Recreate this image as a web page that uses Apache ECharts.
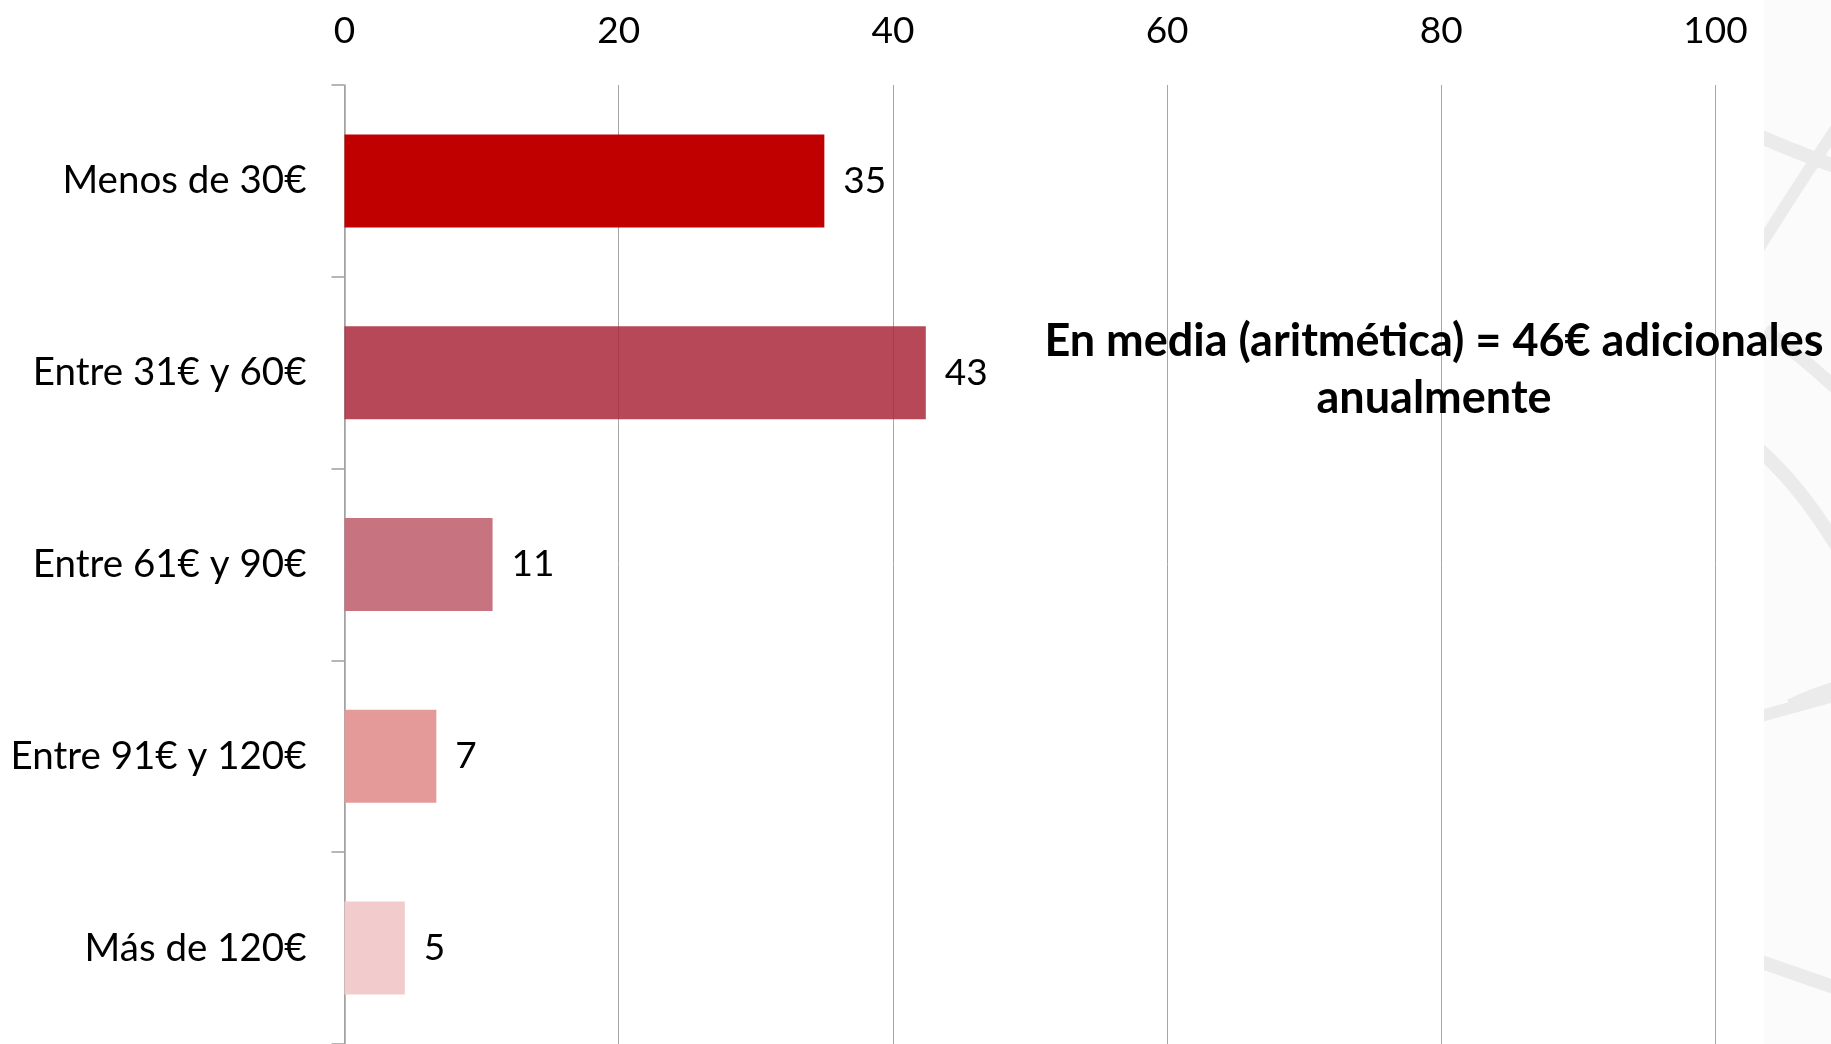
<!DOCTYPE html>
<html>
<head>
<meta charset="utf-8">
<script src="https://cdn.jsdelivr.net/npm/echarts@6/dist/echarts.min.js"></script>
<style>
html,body{margin:0;padding:0;background:#fff;}
#chart{width:1831px;height:1044px;}
</style>
</head>
<body>
<div id="chart"></div>
<script>
const categories = ['Menos de 30€', 'Entre 31€ y 60€', 'Entre 61€ y 90€', 'Entre 91€ y 120€', 'Más de 120€'];
const values = [35.0, 42.4, 10.8, 6.7, 4.4];
const valueLabels = ['35', '43', '11', '7', '5'];
const barColors = ['#C00000', 'rgba(170,42,60,0.86)', '#C87480', '#E59A9A', '#F2CBCD'];
const xTicks = [0, 20, 40, 60, 80, 100];
const noteLines = ['En media (aritmética) = 46€ adicionales', 'anualmente'];

const FONT = 'Lato, "Open Sans", "Noto Sans", sans-serif';
const chart = echarts.init(document.getElementById('chart'), null, {renderer: 'canvas'});

const band = (p1, p2, p3, w) => ({
  type: 'bezierCurve', z: -5, silent: true,
  shape: {x1: p1[0], y1: p1[1], cpx1: p2[0], cpy1: p2[1], x2: p3[0], y2: p3[1]},
  style: {stroke: '#EBEBEB', lineWidth: w, fill: null}
});

const option = {
  backgroundColor: '#ffffff',
  animation: false,
  graphic: [
    {type: 'rect', z: -10, silent: true, shape: {x: 1764, y: 0, width: 67, height: 1044}, style: {fill: '#FBFBFB'}},
    band([1745, 130], [1790, 150], [1840, 168], 14),
    band([1750, 262], [1795, 190], [1845, 115], 12),
    band([1765, 330], [1800, 355], [1840, 392], 13),
    band([1750, 442], [1800, 482], [1845, 560], 14),
    band([1790, 705], [1810, 695], [1845, 684], 12),
    band([1750, 719], [1790, 708], [1845, 693], 12),
    band([1750, 958], [1790, 972], [1845, 991], 14),
    {type: 'rect', z: -4, silent: true, shape: {x: 1730, y: 0, width: 34, height: 1044}, style: {fill: '#FFFFFF'}},
    {type: 'text', z: 100, silent: true, x: 1434, y: 341,
      style: {text: noteLines[0], font: 'bold 45px ' + FONT, fill: '#000', align: 'center', verticalAlign: 'middle'}},
    {type: 'text', z: 100, silent: true, x: 1434, y: 398,
      style: {text: noteLines[1], font: 'bold 45px ' + FONT, fill: '#000', align: 'center', verticalAlign: 'middle'}}
  ],
  grid: {left: 344.5, right: 115.5, top: 85, height: 960, containLabel: false},
  xAxis: {
    type: 'value', position: 'top', min: xTicks[0], max: xTicks[xTicks.length - 1], interval: 20,
    axisLine: {show: false}, axisTick: {show: false},
    axisLabel: {margin: 35, color: '#000', fontSize: 37, fontFamily: FONT},
    splitLine: {show: true, lineStyle: {color: '#A6A6A6', width: 1}}
  },
  yAxis: {
    type: 'category', data: categories, inverse: true,
    axisLine: {show: true, lineStyle: {color: '#A0A0A0', width: 1.5}},
    axisTick: {show: true, length: 13, lineStyle: {color: '#A0A0A0', width: 1.5}},
    axisLabel: {margin: 38, color: '#000', fontSize: 38.5, fontFamily: FONT, padding: [4, 0, 0, 0]},
    splitLine: {show: false}
  },
  series: [{
    type: 'bar',
    data: values.map((v, i) => ({value: v, itemStyle: {color: barColors[i]}})),
    barWidth: 93,
    label: {
      show: true, position: 'right', distance: 19, color: '#000', fontSize: 37, fontFamily: FONT,
      padding: [4, 0, 0, 0],
      formatter: p => valueLabels[p.dataIndex]
    }
  }]
};
chart.setOption(option);
</script>
</body>
</html>
